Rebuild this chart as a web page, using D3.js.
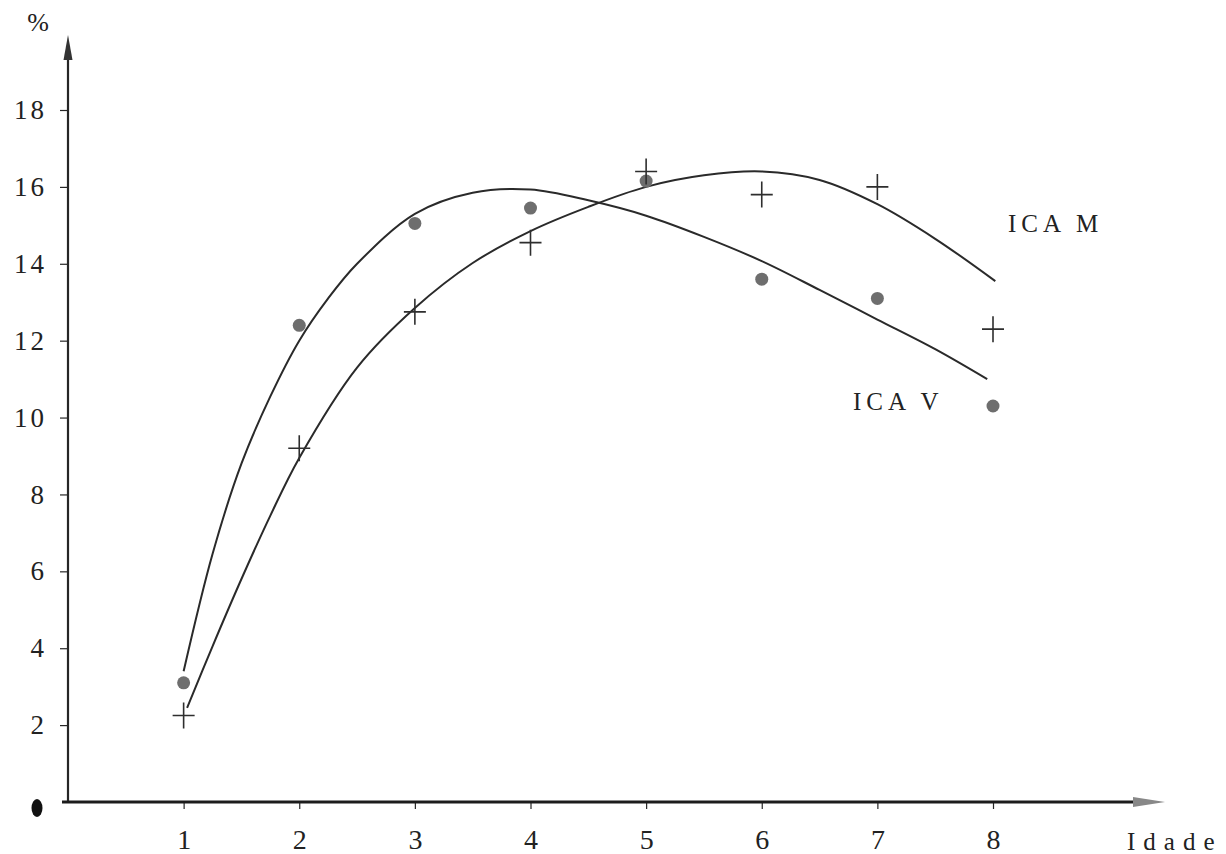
<!DOCTYPE html>
<html>
<head>
<meta charset="utf-8">
<script src="https://cdn.jsdelivr.net/npm/d3@7"></script>
<style>
  body { margin: 0; background: #fff; }
  svg { display: block; }
  text { font-family: "Liberation Serif", "DejaVu Serif", serif; fill: #222; }
</style>
</head>
<body>
<svg id="chart" width="1226" height="854"></svg>
<script>
// Age classes (x) and observed current annual increment (%) per series
const ages = [1, 2, 3, 4, 5, 6, 7, 8];
const icaV = [3.1, 12.4, 15.05, 15.45, 16.15, 13.6, 13.1, 10.3];   // dots
const icaM = [2.25, 9.2, 12.75, 14.55, 16.4, 15.8, 16.0, 12.3];     // crosses

// Fitted trend curves, sampled along age
const fitAgesV = [1, 1.25, 1.5, 1.75, 2, 2.25, 2.5, 3, 3.5, 4, 4.5, 5, 5.5, 6, 6.5, 7, 7.5, 7.95];
const fitV     = [3.4, 6.45, 8.8, 10.55, 12.0, 13.1, 14.0, 15.3, 15.85, 15.93, 15.65, 15.25, 14.7, 14.07, 13.32, 12.55, 11.78, 11.0];
const fitAgesM = [1.03, 1.25, 1.5, 1.75, 2, 2.5, 3, 3.5, 4, 4.5, 5, 5.5, 6, 6.5, 7, 7.5, 8.02];
const fitM     = [2.45, 4.05, 5.8, 7.45, 8.95, 11.3, 12.85, 14.02, 14.85, 15.48, 16.0, 16.3, 16.4, 16.18, 15.55, 14.65, 13.55];

const yTicks = [2, 4, 6, 8, 10, 12, 14, 16, 18];
const xTicks = [1, 2, 3, 4, 5, 6, 7, 8];

const svg = d3.select("#chart");
const x = d3.scaleLinear().domain([0, 8]).range([68, 993]);
const y = d3.scaleLinear().domain([0, 18]).range([802, 110]);
const ink = "#262626";

// Y axis ticks and labels
const yAxis = svg.append("g")
  .attr("transform", `translate(${x(0)},0)`)
  .call(d3.axisLeft(y).tickValues(yTicks).tickSize(8).tickPadding(13));
yAxis.select(".domain").remove();
yAxis.selectAll(".tick line").attr("stroke", ink).attr("stroke-width", 1.2);
yAxis.selectAll(".tick text")
  .style("font-family", '"Liberation Serif", serif')
  .style("font-size", "27px").style("letter-spacing", "3px")
  .attr("fill", "#222");

// X axis ticks and labels
const xAxis = svg.append("g")
  .attr("transform", `translate(0,${y(0)})`)
  .call(d3.axisBottom(x).tickValues(xTicks).tickSize(7).tickPadding(20));
xAxis.select(".domain").remove();
xAxis.selectAll(".tick line").attr("stroke", ink).attr("stroke-width", 1.2);
xAxis.selectAll(".tick text")
  .style("font-family", '"Liberation Serif", serif')
  .style("font-size", "28px")
  .attr("fill", "#222");

// Axis lines with arrowheads
svg.append("line")
  .attr("x1", x(0)).attr("y1", y(0) + 1).attr("x2", x(0)).attr("y2", 58)
  .attr("stroke", ink).attr("stroke-width", 2.2);
svg.append("path")
  .attr("d", `M${x(0)},35 L${x(0) - 4.5},60 L${x(0) + 4.5},60 Z`)
  .attr("fill", "#333");

svg.append("line")
  .attr("x1", 62).attr("y1", y(0)).attr("x2", 1138).attr("y2", y(0))
  .attr("stroke", "#1c1c1c").attr("stroke-width", 3);
svg.append("path")
  .attr("d", `M1165,${y(0)} L1133,${y(0) - 5} L1133,${y(0) + 5} Z`)
  .attr("fill", "#888");

// Origin mark
svg.append("ellipse")
  .attr("cx", 37).attr("cy", 808).attr("rx", 5.5).attr("ry", 9)
  .attr("fill", "#111");

// Axis titles
svg.append("text").attr("x", 38).attr("y", 31).attr("text-anchor", "middle")
  .style("font-size", "26px").text("%");
svg.append("text").attr("x", 1127).attr("y", 850)
  .style("font-size", "25px").style("letter-spacing", "8px").text("Idade");

// Fitted curves
const line = d3.line()
  .x(d => x(d[0])).y(d => y(d[1]))
  .curve(d3.curveCatmullRom.alpha(0.5));

svg.append("path")
  .datum(d3.zip(fitAgesV, fitV))
  .attr("d", line)
  .attr("fill", "none").attr("stroke", "#2a2a2a").attr("stroke-width", 2);

svg.append("path")
  .datum(d3.zip(fitAgesM, fitM))
  .attr("d", line)
  .attr("fill", "none").attr("stroke", "#2a2a2a").attr("stroke-width", 2);

// Observed points: ICA V as dots
svg.append("g").selectAll("circle")
  .data(d3.zip(ages, icaV))
  .join("circle")
  .attr("cx", d => x(d[0])).attr("cy", d => y(d[1]))
  .attr("r", 6.5)
  .attr("fill", "#6e6e6e");

// Observed points: ICA M as crosses
svg.append("g").selectAll("path")
  .data(d3.zip(ages, icaM))
  .join("path")
  .attr("d", d => {
    const cx = x(d[0]), cy = y(d[1]);
    return `M${cx - 11},${cy}H${cx + 11}M${cx},${cy - 13}V${cy + 13}`;
  })
  .attr("stroke", "#2e2e2e").attr("stroke-width", 1.6).attr("fill", "none");

// Series labels
svg.append("text").attr("x", 1008).attr("y", 232)
  .style("font-size", "25px").style("letter-spacing", "5px").text("ICA M");
svg.append("text").attr("x", 853).attr("y", 410)
  .style("font-size", "25px").style("letter-spacing", "5px").text("ICA V");
</script>
</body>
</html>
